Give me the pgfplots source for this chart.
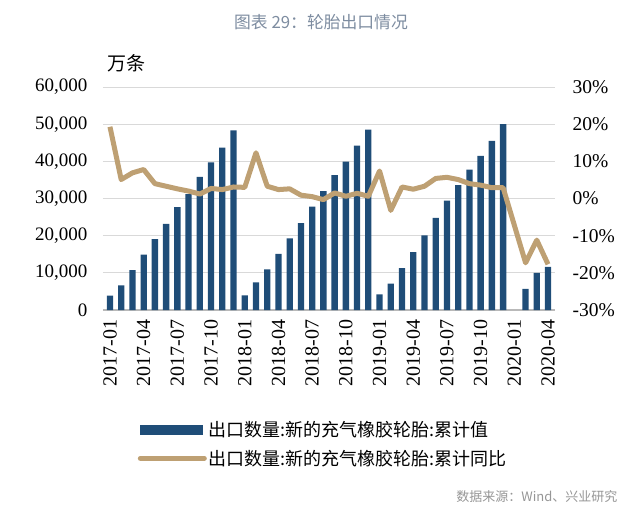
\documentclass[border=0pt]{standalone}
\usepackage{pgfplots}
\pgfplotsset{compat=1.18}
\usepackage{fontspec}
\setmainfont{Liberation Serif}
\newfontfamily\cjk{Noto Sans CJK SC}
\definecolor{barblue}{RGB}{31,77,120}
\definecolor{tan}{RGB}{190,160,115}
\definecolor{gridgray}{RGB}{217,217,217}
\definecolor{titlegray}{RGB}{125,140,160}
\definecolor{srcgray}{RGB}{150,150,150}
\begin{document}
\begin{tikzpicture}
\useasboundingbox (0,0) rectangle (640pt,512pt);
\node[font=\cjk\fontsize{16.8}{17}\selectfont, text=titlegray] at (321pt,490pt) {图表 29：轮胎出口情况};
\node[font=\cjk\fontsize{19}{19}\selectfont, anchor=west] at (104pt,449pt) {万条};
\node[font=\cjk\fontsize{13}{13}\selectfont, text=srcgray, anchor=east] at (621pt,15pt) {数据来源：Wind、兴业研究};
\begin{axis}[
  at={(103pt,202pt)}, anchor=south west, scale only axis,
  width=452pt, height=223pt,
  xmin=-0.62, xmax=39.62, ymin=0, ymax=60000,
  ytick={0,10000,...,60000},
  ymajorgrids, grid style={draw=gridgray, line width=1pt},
  axis x line*=bottom, axis y line*=left,
  y axis line style={draw=none},
  x axis line style={draw=gray!55, line width=1.2pt, -},
  major tick length=0pt,
  xtick={0,3,...,39},
  xticklabels={2017-01,2017-04,2017-07,2017-10,2018-01,2018-04,2018-07,2018-10,2019-01,2019-04,2019-07,2019-10,2020-01,2020-04},
  x tick label style={rotate=90, anchor=east, font=\fontsize{20}{20}\selectfont},
  xticklabel shift=6pt,
  y tick label style={font=\fontsize{19}{19}\selectfont, xshift=-12pt},
  scaled y ticks=false,
  yticklabel style={/pgf/number format/.cd, fixed, 1000 sep={,}},
  /pgf/number format/assume math mode=true,
  ybar, bar width=6.3pt,
]
\addplot[fill=barblue, draw=none] coordinates {
(0,3900)(1,6600)(2,10700)(3,14900)(4,19100)(5,23200)(6,27700)(7,31200)(8,35800)(9,39700)(10,43700)(11,48300)
(12,3950)(13,7400)(14,10900)(15,15100)(16,19300)(17,23400)(18,27800)(19,32000)(20,36300)(21,39900)(22,44200)(23,48500)
(24,4200)(25,7100)(26,11300)(27,15600)(28,20100)(29,24800)(30,29400)(31,33600)(32,37800)(33,41500)(34,45500)(35,50000)
(37,5700)(38,10000)(39,11600)};
\end{axis}
\begin{axis}[
  at={(103pt,202pt)}, anchor=south west, scale only axis,
  width=452pt, height=223pt,
  xmin=-0.62, xmax=39.62, ymin=-30, ymax=30,
  ytick={-30,-20,...,30},
  axis x line=none, axis y line*=right,
  y axis line style={draw=none},
  major tick length=0pt,
  yticklabel={\pgfmathprintnumber{\tick}\%},
  y tick label style={font=\fontsize{19.5}{19.5}\selectfont, xshift=14pt},
  /pgf/number format/assume math mode=true,
  legend style={at={(0.07,-0.48)}, anchor=north west, draw=none, fill=none,
    font=\cjk\fontsize{18}{18}\selectfont, row sep=8pt},
  legend cell align=left,
]
\addlegendimage{legend image code/.code={\fill[barblue] (0pt,-4.5pt) rectangle (62pt,4.5pt);}}
\addlegendentry{出口数量:新的充气橡胶轮胎:累计值}
\addplot[color=tan, line width=5pt, line join=round, mark=none,
  legend image code/.code={\draw[tan, line width=5pt, line cap=round] (0pt,0pt) -- (64pt,0pt);}] coordinates {
(0,19.3)(1,5.1)(2,6.9)(3,7.8)(4,4.0)(5,3.3)(6,2.6)(7,2.0)(8,1.2)(9,2.7)(10,2.4)(11,3.1)
(12,3.0)(13,12.3)(14,3.3)(15,2.4)(16,2.6)(17,0.9)(18,0.5)(19,-0.3)(20,1.5)(21,0.6)(22,1.4)(23,0.6)
(24,7.4)(25,-3.2)(26,3.1)(27,2.5)(28,3.3)(29,5.4)(30,5.7)(31,5.1)(32,4.0)(33,3.6)(34,2.9)(35,2.9)
(37,-17.3)(38,-11.2)(39,-17.7)};
\addlegendentry{出口数量:新的充气橡胶轮胎:累计同比}
\end{axis}
\end{tikzpicture}
\end{document}
